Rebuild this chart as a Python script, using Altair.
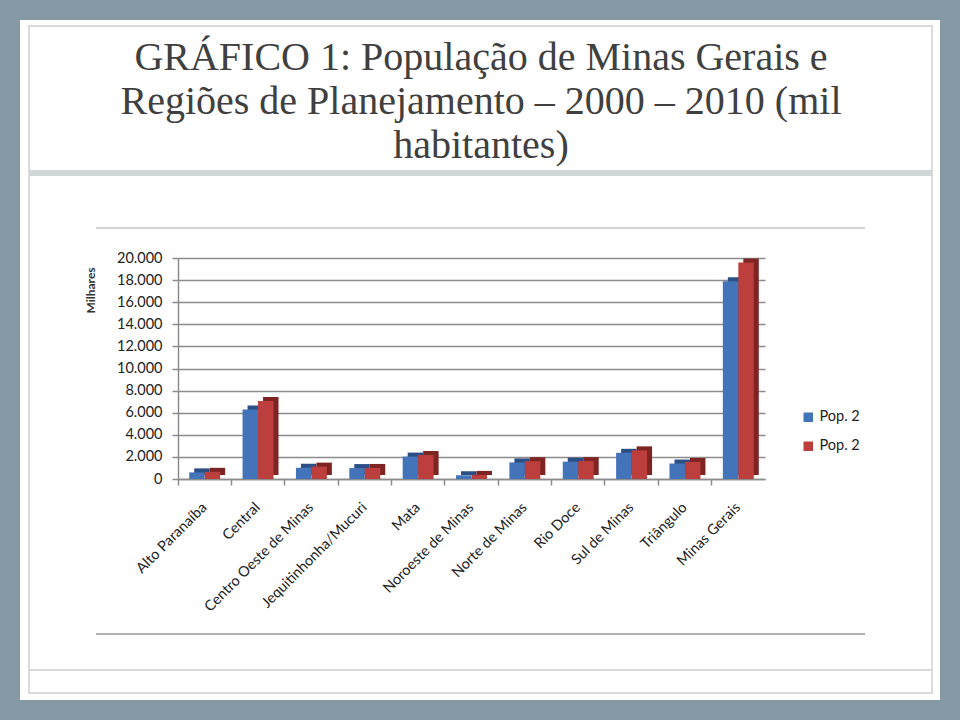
import altair as alt
import pandas as pd

# ---- data (mil habitantes) ----
regions = ["Alto Paranaíba", "Central", "Centro Oeste de Minas", "Jequitinhonha/Mucuri",
           "Mata", "Noroeste de Minas", "Norte de Minas", "Rio Doce", "Sul de Minas",
           "Triângulo", "Minas Gerais"]
pop_2000 = [600, 6300, 1010, 990, 2030, 340, 1500, 1570, 2370, 1400, 17890]
pop_2010 = [650, 7050, 1120, 1000, 2170, 370, 1610, 1620, 2590, 1540, 19600]
series = ["Pop. 2000", "Pop. 2010"]
y_ticks = [0, 2000, 4000, 6000, 8000, 10000, 12000, 14000, 16000, 18000, 20000]
title_lines = ["GRÁFICO 1: População de Minas Gerais e",
               "Regiões de Planejamento – 2000 – 2010 (mil",
               "habitantes)"]
y_title = "Milhares"

front_colors = ["#4373b8", "#bd3f3d"]
side_colors = ["#2b4f85", "#7e2423"]

rows = []
for r, a, b in zip(regions, pop_2000, pop_2010):
    rows.append({"Região": r, "Série": series[0], "Milhares": a})
    rows.append({"Região": r, "Série": series[1], "Milhares": b})
df = pd.DataFrame(rows)

# ---- layout ----
OX, OY = 178, 258
W, H = 587, 221
GRID = "#8c8c8c"
P_IN, P_OUT = 0.42, 0.21
BANDW = W / (len(regions) - P_IN + 2 * P_OUT) * (1 - P_IN)
DEPTH_X, DEPTH_Y = 5, 4

x_enc = alt.X("Região:N", sort=regions,
              scale=alt.Scale(paddingInner=P_IN, paddingOuter=P_OUT),
              axis=alt.Axis(title=None, labelAngle=-45, labelAlign="right",
                            labelBaseline="middle", labelFont="Lato", labelFontSize=14.5,
                            labelColor="#222222", labelPadding=20, tickSize=6,
                            tickColor=GRID, tickWidth=1.5, domainColor=GRID, domainWidth=1.5,
                            bandPosition=-0.362, labelOffset=0, grid=False))
y_enc = alt.Y("Milhares:Q", scale=alt.Scale(domain=[0, 20000], nice=False),
              axis=alt.Axis(values=y_ticks, title=y_title, titleX=-81, titleY=32,
                            titleFont="Lato", titleFontSize=12, titleFontWeight="bold",
                            titleColor="#333333",
                            labelExpr="replace(format(datum.value, ','), ',', '.')",
                            labelFont="Lato", labelFontSize=14.5, labelColor="#222222",
                            labelPadding=10, tickSize=6, tickColor=GRID, tickWidth=1.5,
                            domainColor=GRID, domainWidth=1.5,
                            gridColor=GRID, gridWidth=1.5))

shadow = alt.Chart(df).mark_bar(yOffset=-DEPTH_Y).encode(
    x=x_enc, y=y_enc,
    xOffset=alt.XOffset("Série:N", sort=series,
                        scale=alt.Scale(range=[DEPTH_X, BANDW + DEPTH_X])),
    color=alt.Color("Série:N", sort=series,
                    scale=alt.Scale(domain=series, range=side_colors), legend=None),
)

bars = alt.Chart(df).mark_bar().encode(
    x=x_enc, y=y_enc,
    xOffset=alt.XOffset("Série:N", sort=series),
    color=alt.Color("Série:N", sort=series,
                    scale=alt.Scale(domain=series, range=front_colors),
                    legend=alt.Legend(title=None, orient="none", legendX=623, legendY=152,
                                      symbolType="square", symbolSize=90,
                                      symbolStrokeWidth=0,
                                      labelFont="Lato", labelFontSize=14.5,
                                      labelColor="#222222", rowPadding=14,
                                      labelExpr="slice(datum.label, 0, 6)")),
)

one = alt.Data(values=[{"k": 1}])


def rect(x0, x1, y0, y1, **kw):
    return alt.Chart(one).mark_rect(**kw).encode(
        x=alt.value(x0 - OX), x2=alt.value(x1 - OX),
        y=alt.value(y0 - OY), y2=alt.value(y1 - OY))


def hline(x0, x1, y, color, width):
    return alt.Chart(one).mark_rule(color=color, strokeWidth=width).encode(
        x=alt.value(x0 - OX), x2=alt.value(x1 - OX), y=alt.value(y - OY))


frame = rect(10, 950, 10, 710, fillOpacity=0, stroke="#8599a4", strokeWidth=20)
inner = rect(29, 932, 26, 693, fillOpacity=0, stroke="#cfcfcf", strokeWidth=1.5)
band = rect(29, 932, 170, 176, color="#d0d7d7")
line_bottom = hline(29, 932, 670, "#cccccc", 1.5)
chart_top = hline(96, 865, 228, "#c4c4c4", 1.5)
chart_bottom = hline(96, 865, 634, "#b0b0b0", 2)

title = alt.Chart(one).mark_text(
    lineBreak="\n", lineHeight=44, font="Liberation Serif", fontSize=40,
    align="center", baseline="alphabetic", color="#404040",
).encode(text=alt.value("\n".join(title_lines)),
         x=alt.value(481 - OX), y=alt.value(70 - OY))

chart = alt.layer(
    frame, inner, band, line_bottom, chart_top, chart_bottom, title, shadow, bars
).resolve_scale(color="independent", xOffset="independent").properties(
    width=W, height=H,
    autosize=alt.AutoSizeParams(type="none"),
    padding={"left": OX, "top": OY, "right": 960 - OX - W, "bottom": 720 - OY - H},
).configure(background="white").configure_view(stroke=None)

chart.save("out.html", embed_options={"renderer": "svg", "actions": False})
